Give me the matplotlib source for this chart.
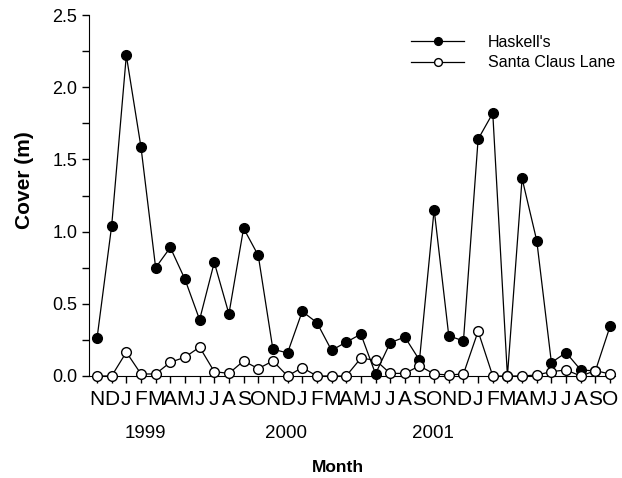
import matplotlib.pyplot as plt

plt.rcParams['font.family'] = ['Liberation Sans', 'DejaVu Sans']

# Nov 1998 .. Oct 2001
months = ['N', 'D', 'J', 'F', 'M', 'A', 'M', 'J', 'J', 'A', 'S', 'O'] * 3
years = ['1999', '2000', '2001']
year_pos = [3.3, 12.9, 22.9]

haskells = [0.26, 1.04, 2.22, 1.585, 0.75, 0.89, 0.67, 0.39, 0.787, 0.43, 1.023, 0.835,
            0.185, 0.16, 0.447, 0.37, 0.178, 0.234, 0.29, 0.015, 0.23, 0.27, 0.11, 1.153,
            0.278, 0.243, 1.64, 1.82, 0.0, 1.368, 0.9375, 0.093, 0.162, 0.042, 0.035, 0.343]
santa_claus = [0.0, 0.0, 0.165, 0.014, 0.014, 0.095, 0.13, 0.2, 0.03, 0.018, 0.104, 0.051,
               0.104, 0.0, 0.058, 0.0, 0.0, 0.0, 0.123, 0.11, 0.018, 0.018, 0.07, 0.014,
               0.007, 0.014, 0.31, 0.0, 0.0, 0.0, 0.007, 0.03, 0.042, 0.0, 0.037, 0.014]

x = list(range(len(months)))

fig = plt.figure(figsize=(6.22, 4.78), dpi=100)
ax = fig.add_axes([0.143, 0.2134, 0.846, 0.7552])

ax.plot(x, haskells, '-o', color='black', lw=0.9, ms=7, mfc='black', mec='black',
        label="Haskell's", clip_on=False, zorder=3)
ax.plot(x, santa_claus, '-o', color='black', lw=0.9, ms=7, mfc='white', mec='black',
        label='Santa Claus Lane', clip_on=False, zorder=4)

ax.set_xlim(-0.55, 35.35)
ax.set_ylim(0, 2.5)
ax.set_xticks(x)
ax.set_xticklabels(months, fontsize=15)
ax.set_yticks([0, 0.5, 1.0, 1.5, 2.0, 2.5])
ax.set_yticks([0.25, 0.75, 1.25, 1.75, 2.25], minor=True)
ax.set_yticklabels(['0.0', '0.5', '1.0', '1.5', '2.0', '2.5'], fontsize=13)
ax.tick_params(axis='both', which='both', direction='out', length=5, width=1)
ax.tick_params(axis='x', pad=5)
ax.spines['top'].set_visible(False)
ax.spines['right'].set_visible(False)

for yr, p in zip(years, year_pos):
    ax.text(p, -0.4, yr, ha='center', va='center', fontsize=13.5,
            transform=ax.transData, clip_on=False)

fig.text(338 / 622, 1 - 468 / 478, 'Month', ha='center', va='center',
         fontsize=12.5, fontweight='bold')
fig.text(24 / 622, 1 - 180 / 478, 'Cover (m)', ha='center', va='center',
         rotation=90, fontsize=15, fontweight='bold')

ax.legend(loc='upper left', bbox_to_anchor=(0.585, 0.985), frameon=False,
          fontsize=11.5, handlelength=3.3, handletextpad=1.5, labelspacing=0.35,
          markerscale=0.8)

fig.savefig('out.png', dpi=100)
